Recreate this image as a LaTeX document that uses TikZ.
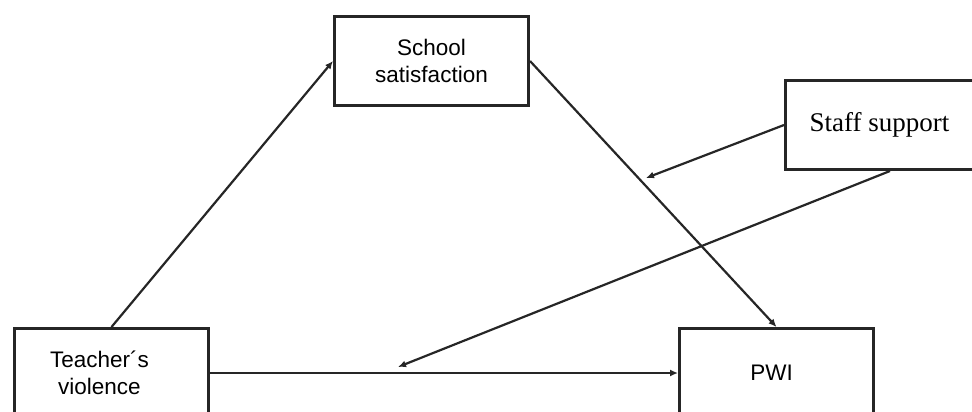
\documentclass[tikz,border=0pt]{standalone}
\usepackage{fontspec}
\setmainfont{Liberation Sans}
\newfontfamily\serifface{Liberation Serif}
\usetikzlibrary{arrows.meta}
\begin{document}
\begin{tikzpicture}[x=1pt,y=-1pt,
  box/.style={draw=black!85,line width=3pt,minimum width=194pt,minimum height=89pt,inner sep=0pt,align=center,anchor=north west,
    font=\fontsize{22.5}{27}\selectfont},
  conn/.style={draw=black!85,line width=2.2pt,-{Latex[length=8pt,width=7pt]}}]
\useasboundingbox (0,0) rectangle (972,412);
\clip (0,0) rectangle (972,412);
\node[box] (school) at (333,15) {School\\satisfaction};
\node[box,label={[align=center,xshift=-12pt,font=\fontsize{22.5}{27}\selectfont]center:Teacher\textasciiacute s\\violence}] (teacher) at (13,327) {};
\node[box] (pwi) at (678,327) {\hspace*{-10pt}PWI};
\node[box,font=\serifface\fontsize{27}{32}\selectfont] (staff) at (784,79) {\hspace*{-6pt}Staff support};
\coordinate (m1) at (646,178);
\coordinate (m2) at (398,367);
\draw[conn] (teacher.north) -- (school.west);
\draw[conn] (school.east) -- (pwi.north);
\draw[conn] (teacher.east) -- (pwi.west);
\draw[conn] (staff.west) -- (m1);
\draw[conn] ([xshift=106pt]staff.south west) -- (m2);
\end{tikzpicture}
\end{document}
